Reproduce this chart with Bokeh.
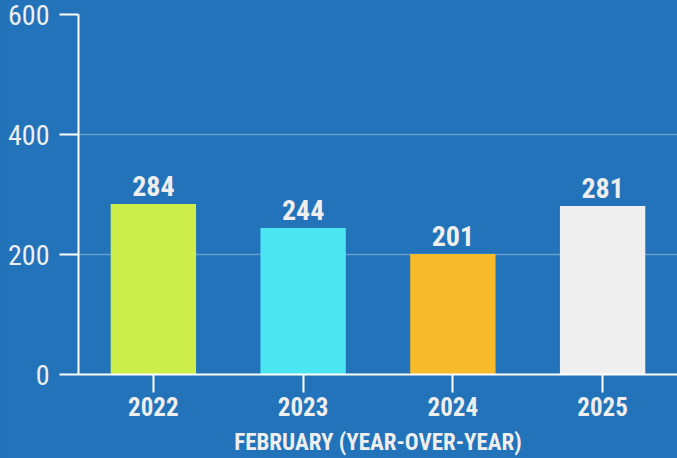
from bokeh.plotting import figure
from bokeh.models import FixedTicker, Range1d, ColumnDataSource
from bokeh.core.properties import value
from bokeh.embed import file_html
from bokeh.resources import INLINE

years = ["2022", "2023", "2024", "2025"]
counts = [284, 244, 201, 281]
bar_colors = ["#cdee4a", "#4ce6f2", "#f7ba2b", "#efefef"]
y_ticks = [0, 200, 400, 600]
x_title = "FEBRUARY (YEAR-OVER-YEAR)"

BG = "#2273b9"
TXT = "#eeeeee"
FONT = "'Roboto Condensed', 'Liberation Sans Narrow', Roboto"

src = ColumnDataSource(dict(year=years, count=counts, color=bar_colors,
                            label=[str(c) for c in counts]))

p = figure(x_range=years, y_range=Range1d(0, 600), width=677, height=458,
           output_backend="svg", toolbar_location=None,
           min_border_left=78, min_border_right=0, min_border_top=14, min_border_bottom=84)
p.background_fill_color = BG
p.border_fill_color = BG
p.outline_line_color = None
p.x_range.range_padding = 0

p.vbar(x="year", top="count", width=0.57, color="color", source=src, line_color=None)
p.text(x="year", y="count", text="label", source=src, text_align="center",
       text_baseline="alphabetic", y_offset=-18, text_color=TXT,
       text_font=value(FONT), text_font_size="28px", text_font_style="bold")

p.xgrid.grid_line_color = None
p.ygrid.grid_line_color = "#ffffff"
p.ygrid.grid_line_alpha = 0.3
p.ygrid.grid_line_width = 1.5

ya = p.yaxis[0]
ya.ticker = FixedTicker(ticks=y_ticks)
ya.axis_line_color = "#ffffff"
ya.axis_line_width = 2
ya.major_tick_line_color = "#ffffff"
ya.major_tick_line_width = 2
ya.major_tick_out = 19
ya.major_tick_in = 0
ya.minor_tick_line_color = None
ya.major_label_text_color = TXT
ya.major_label_text_font = FONT
ya.major_label_text_font_size = "28px"
ya.major_label_standoff = 10

xa = p.xaxis[0]
xa.axis_line_color = "#ffffff"
xa.axis_line_width = 2
xa.major_tick_line_color = "#ffffff"
xa.major_tick_line_width = 2
xa.major_tick_out = 18
xa.major_tick_in = 0
xa.major_label_text_color = TXT
xa.major_label_text_font = FONT
xa.major_label_text_font_size = "25px"
xa.major_label_text_font_style = "bold"
xa.major_label_standoff = 4
xa.axis_label = x_title
xa.axis_label_text_color = TXT
xa.axis_label_text_font = FONT
xa.axis_label_text_font_size = "23px"
xa.axis_label_text_font_style = "bold"
xa.axis_label_standoff = 10

html = file_html(p, INLINE)
html = html.replace("</head>", "<style>html,body{background:%s;}</style></head>" % BG, 1)
open("out.html", "w").write(html)
